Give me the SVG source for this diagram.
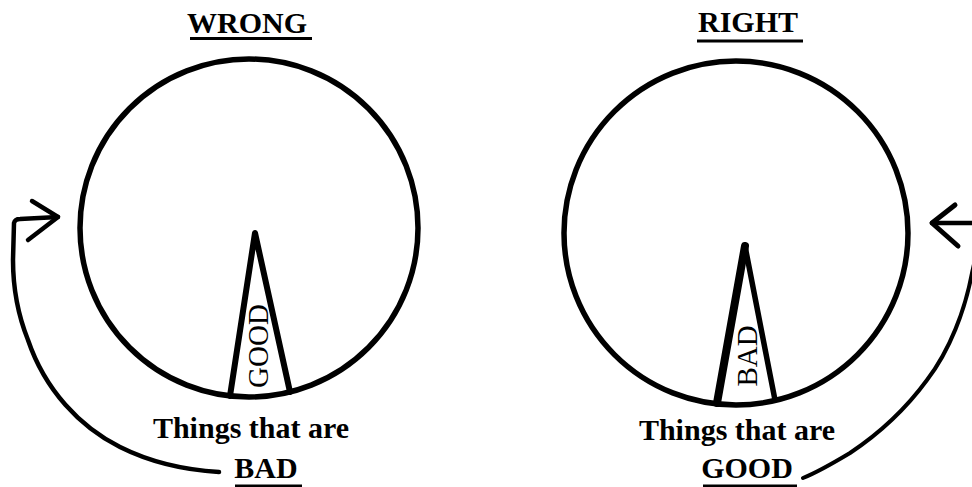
<svg xmlns="http://www.w3.org/2000/svg" width="972" height="487" viewBox="0 0 972 487">
<style>
.ink{fill:none;stroke:#000;stroke-linecap:round;stroke-linejoin:round}
.ttl{font-family:"Liberation Serif","Times New Roman",serif;font-weight:bold;font-size:30px;fill:#000;text-anchor:middle}
.wl{font-family:"Liberation Serif","Times New Roman",serif;font-size:29px;fill:#000;text-anchor:middle}
.ul{stroke:#000;stroke-width:3}
</style>
<rect width="972" height="487" fill="#fff"/>
<g id="wrong-title">
<text class="ttl" x="247" y="33">WRONG</text>
<line class="ul" x1="190" y1="38.5" x2="312" y2="38.5"/>
</g>
<g id="wrong-circle">
<circle class="ink" cx="249" cy="228" r="169" stroke-width="5.5"/>
<path class="ink" d="M230 396 L255 233 L290 392" stroke-width="6"/>
<text class="wl" transform="translate(268,346) rotate(-90)" x="0" y="0">GOOD</text>
</g>
<g id="wrong-label">
<text class="ttl" x="251" y="438">Things that are</text>
<text class="ttl" x="266" y="478">BAD</text>
<line class="ul" x1="235" y1="486" x2="302" y2="486"/>
</g>
<g id="right-title">
<text class="ttl" x="748" y="32">RIGHT</text>
<line class="ul" x1="697" y1="41" x2="803" y2="41"/>
</g>
<g id="right-circle">
<circle class="ink" cx="736" cy="233" r="172" stroke-width="5.5"/>
<path class="ink" d="M717 403 L745 246" stroke-width="8"/>
<path class="ink" d="M745 246 L775 400" stroke-width="5.5"/>
<text class="wl" transform="translate(757,356) rotate(-90)" x="0" y="0">BAD</text>
</g>
<g id="right-label">
<text class="ttl" x="737" y="440">Things that are</text>
<text class="ttl" x="747" y="478">GOOD</text>
<line class="ul" x1="703" y1="486" x2="797" y2="486"/>
</g>
<g id="connectors">
<path class="ink" stroke-width="4.5" d="M219 472 C185 470 150 462 120 447 C80 427 45 390 28 340 C18 315 13 290 13 260 L14 223 Q15 219 20 219 L58 217"/>
<path class="ink" stroke-width="4.5" d="M32 201 L58 217 L28 240"/>
<path class="ink" stroke-width="4" d="M803 478 C818 472 835 462 850 453 C880 433 905 410 927 380 C950 350 965 310 972 273 L975 260"/>
<path class="ink" stroke-width="4.5" d="M975 223 L932 223"/>
<path class="ink" stroke-width="5" d="M955 205 L932 223 L958 246"/>
</g>
</svg>
